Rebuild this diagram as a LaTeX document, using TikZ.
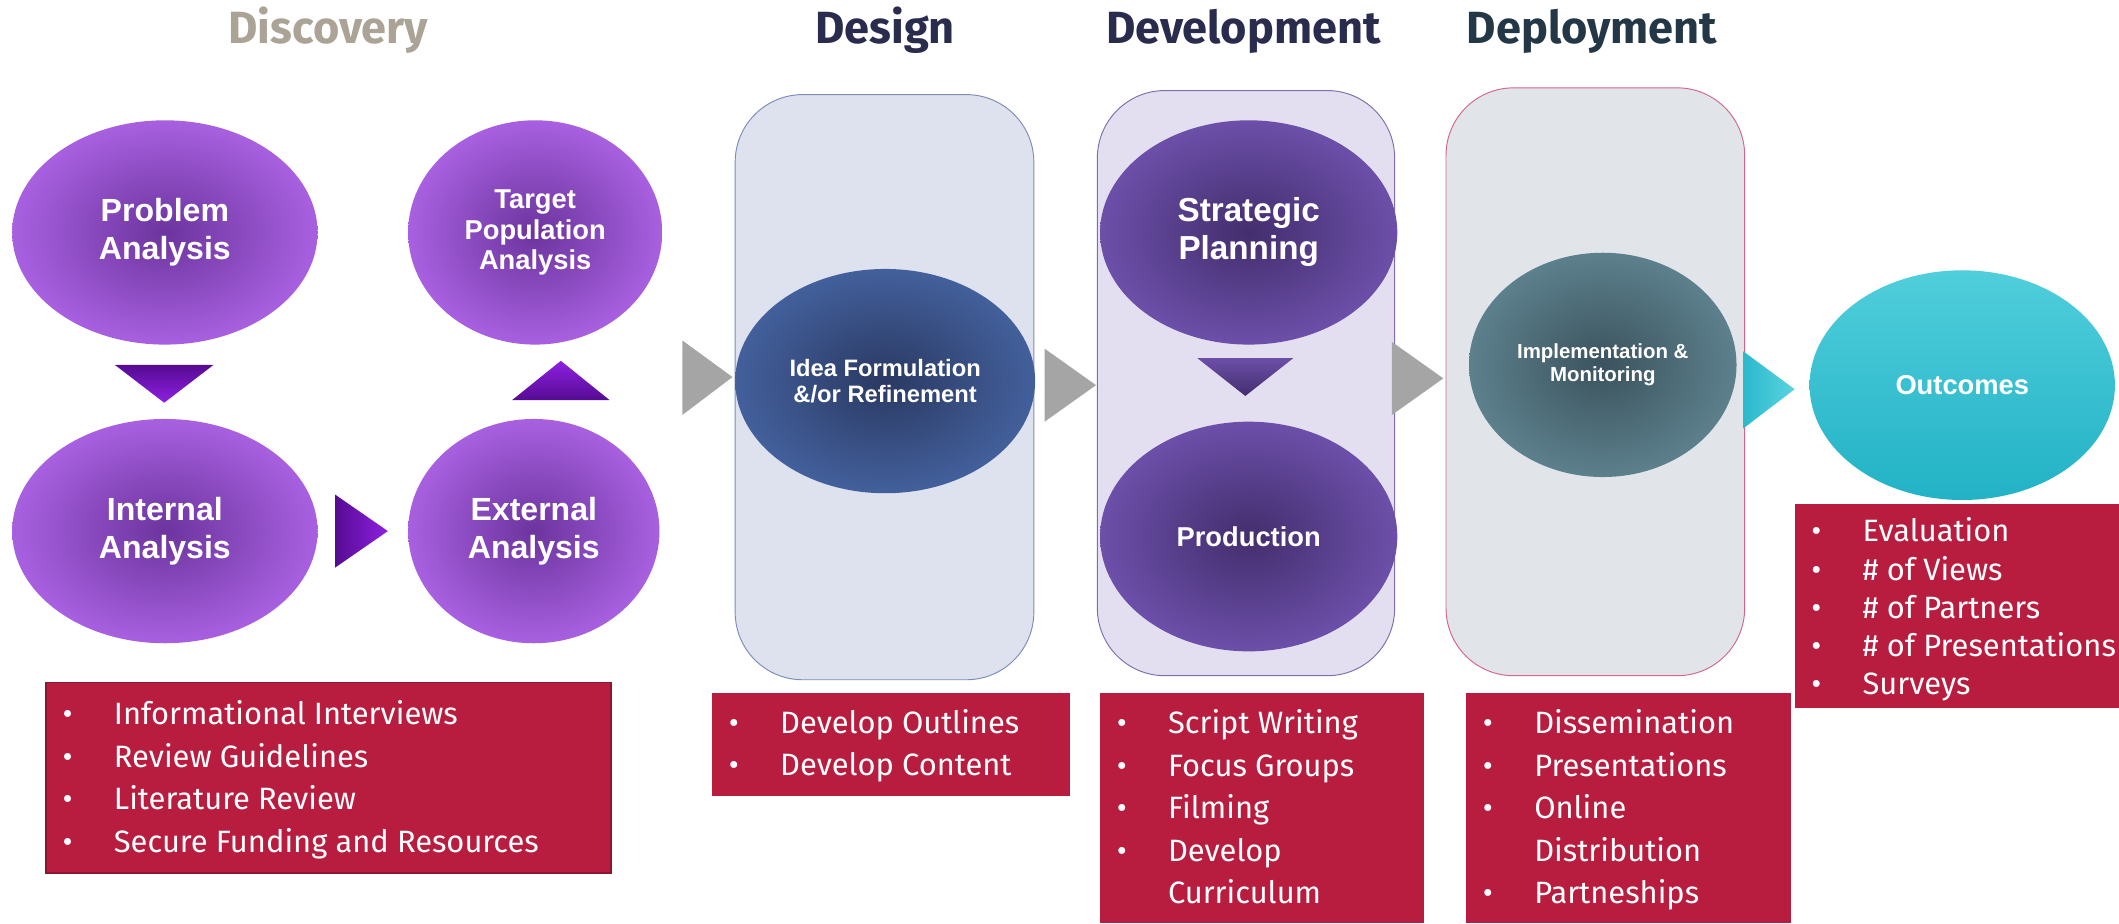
\documentclass[tikz,border=0pt]{standalone}
\usepackage{fontspec}
\setmainfont{Fira Sans}
\newfontfamily\arialfont{Liberation Sans}
\usetikzlibrary{shapes.geometric}

\definecolor{discout}{HTML}{A860E0}
\definecolor{discin}{HTML}{6C349E}
\definecolor{tridark}{HTML}{560B92}
\definecolor{trilight}{HTML}{8E20E2}
\definecolor{designbg}{HTML}{DEE2EE}
\definecolor{designln}{HTML}{7F8CB6}
\definecolor{ideaout}{HTML}{43609C}
\definecolor{ideain}{HTML}{2A3962}
\definecolor{devbg}{HTML}{E3DFF0}
\definecolor{devln}{HTML}{7E6FA8}
\definecolor{devout}{HTML}{6C4FA9}
\definecolor{devin}{HTML}{432E6D}
\definecolor{depbg}{HTML}{E1E5EA}
\definecolor{depln}{HTML}{D3668C}
\definecolor{impout}{HTML}{5C808C}
\definecolor{impin}{HTML}{3B535E}
\definecolor{outtop}{HTML}{50CEDB}
\definecolor{outbot}{HTML}{22B2C6}
\definecolor{tealdark}{HTML}{2BB9CC}
\definecolor{teallight}{HTML}{5AD4E0}
\definecolor{listred}{HTML}{B81D3F}
\definecolor{arrowgray}{HTML}{A5A5A5}
\definecolor{discgray}{HTML}{ABA396}
\definecolor{navy}{HTML}{2A2C4E}
\definecolor{slate}{HTML}{243746}

\begin{document}
\begin{tikzpicture}[x=0.02cm,y=-0.02cm]
      \tikzstyle{every node}+=[inner sep=0pt]
      \tikzstyle{circ}=[ellipse, text=white, align=center]
      \tikzstyle{disc}=[circ, inner color=discin, outer color=discout, minimum height=3.32cm, font=\arialfont\bfseries\fontsize{13.5}{16}\selectfont]
      \tikzstyle{devcirc}=[circ, inner color=devin, outer color=devout, minimum width=4.4cm]
      \tikzstyle{title}=[anchor=base, font=\bfseries\fontsize{19}{22}\selectfont]
      \tikzstyle{items}=[anchor=base west, text=white, align=left, font=\fontsize{13}{18}\selectfont]
      \useasboundingbox (0,0) rectangle (1568,683);
      \fill [white] (0,0) rectangle (1568,683);
      \node [title, text=discgray] (tdisc) at (243,32) {Discovery};
      \node [title, text=navy] (tdes) at (655,32) {Design};
      \node [title, text=navy] (tdev) at (920,32) {Development};
      \node [title, text=slate] (tdep) at (1178,32) {Deployment};
      \node [disc, minimum width=4.52cm] (prob) at (122,172) {Problem\\Analysis};
      \node [disc, minimum width=3.76cm, font=\arialfont\bfseries\fontsize{11.5}{12.8}\selectfont] (target) at (396,172) {Target\\Population\\Analysis};
      \node [disc, minimum width=4.52cm] (internal) at (122,393) {Internal\\Analysis};
      \node [disc, minimum width=3.72cm] (external) at (395,393) {External\\Analysis};
      \shade [top color=tridark, bottom color=trilight] (85,270) -- (158,270) -- (121.5,298) -- cycle;
      \shade [top color=trilight, bottom color=tridark] (379,296) -- (451,296) -- (415,267) -- cycle;
      \shade [left color=tridark, right color=trilight] (248,366) -- (248,420) -- (287,393) -- cycle;
      \fill [listred, draw=listred!75!black, line width=0.6pt] (34,505) rectangle (452,646);
      \node [items] (ldisc) at (46,536) {\begin{tabular}[t]{@{}p{21.6pt}@{}l@{}}
        \textbullet & Informational Interviews\\
        \textbullet & Review Guidelines\\
        \textbullet & Literature Review\\
        \textbullet & Secure Funding and Resources
      \end{tabular}};
      \fill [arrowgray] (505,252) -- (542,279) -- (505,307) -- cycle;
      \draw [designln, fill=designbg, rounded corners=1cm] (544,70) rectangle (765,503);
      \node [circ, inner color=ideain, outer color=ideaout, minimum width=4.44cm, minimum height=3.32cm, font=\arialfont\bfseries\fontsize{10}{11}\selectfont] (idea) at (655,282) {Idea Formulation\\\&/or Refinement};
      \fill [listred] (527,513) rectangle (792,589);
      \node [items, font=\fontsize{13}{17.6}\selectfont] (ldes) at (539,543) {\begin{tabular}[t]{@{}p{21.6pt}@{}l@{}}
        \textbullet & Develop Outlines\\
        \textbullet & Develop Content
      \end{tabular}};
      \fill [arrowgray] (773,258) -- (811,285) -- (773,312) -- cycle;
      \draw [devln, fill=devbg, rounded corners=1cm] (812,67) rectangle (1032,500);
      \node [devcirc, minimum height=3.32cm, font=\arialfont\bfseries\fontsize{14}{16}\selectfont] (strat) at (924,172) {Strategic\\Planning};
      \node [devcirc, minimum height=3.4cm, font=\arialfont\bfseries\fontsize{11.5}{13}\selectfont] (prod) at (924,397) {Production};
      \shade [top color=devout, bottom color=devin] (886,265) -- (957,265) -- (921.5,293) -- cycle;
      \fill [listred] (814,513) rectangle (1054,683);
      \node [items, font=\fontsize{13}{17.9}\selectfont] (ldev) at (826,543) {\begin{tabular}[t]{@{}p{21.6pt}@{}l@{}}
        \textbullet & Script Writing\\
        \textbullet & Focus Groups\\
        \textbullet & Filming\\
        \textbullet & Develop\\
        & Curriculum
      \end{tabular}};
      \fill [arrowgray] (1030,253) -- (1068,280) -- (1030,307) -- cycle;
      \draw [depln, fill=depbg, rounded corners=1cm] (1070,65) rectangle (1291,500);
      \node [circ, inner color=impin, outer color=impout, minimum width=3.96cm, minimum height=3.32cm, font=\arialfont\bfseries\fontsize{8.6}{9.7}\selectfont] (impl) at (1186,270) {Implementation \&\\Monitoring};
      \fill [listred] (1085,513) rectangle (1325,683);
      \node [items, font=\fontsize{13}{17.9}\selectfont] (ldep) at (1097,543) {\begin{tabular}[t]{@{}p{21.6pt}@{}l@{}}
        \textbullet & Dissemination\\
        \textbullet & Presentations\\
        \textbullet & Online\\
        & Distribution\\
        \textbullet & Partneships
      \end{tabular}};
      \shade [left color=tealdark, right color=teallight] (1290,260) -- (1328,288) -- (1290,317) -- cycle;
      \node [ellipse, top color=outtop, bottom color=outbot, text=white, minimum width=4.52cm, minimum height=3.4cm, font=\arialfont\bfseries\fontsize{11.5}{13}\selectfont] (outc) at (1452,285) {Outcomes};
      \fill [listred] (1328,373) rectangle (1568,524);
      \node [items, font=\fontsize{13}{16.1}\selectfont] (lout) at (1340,401) {\begin{tabular}[t]{@{}p{21.6pt}@{}l@{}}
        \textbullet & Evaluation\\
        \textbullet & \# of Views\\
        \textbullet & \# of Partners\\
        \textbullet & \# of Presentations\\
        \textbullet & Surveys
      \end{tabular}};
\end{tikzpicture}
\end{document}
